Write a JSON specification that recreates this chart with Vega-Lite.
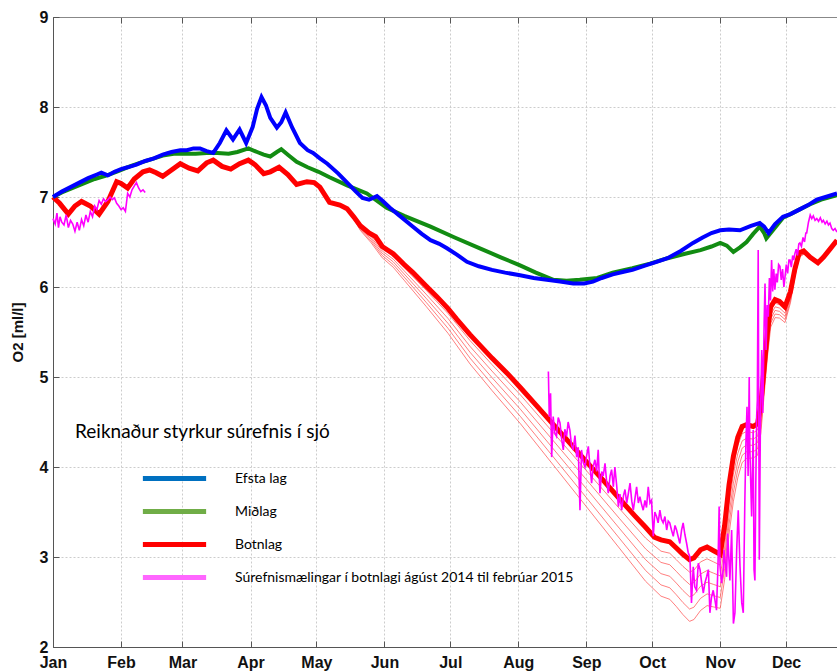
{
  "$schema": "https://vega.github.io/schema/vega-lite/v6.json",
  "width": 784,
  "height": 630,
  "autosize": {"type": "none"},
  "padding": {"left": 53, "top": 17, "right": 0, "bottom": 25},
  "background": "white",
  "config": {
    "view": {"stroke": "#888888", "strokeWidth": 1},
    "axis": {
      "labelFont": "Liberation Sans", "labelFontWeight": "bold", "labelFontSize": 16, "labelColor": "#111111",
      "titleFont": "Liberation Sans", "titleFontWeight": "bold", "titleFontSize": 15, "titleColor": "#111111",
      "domainColor": "#555555", "tickColor": "#555555",
      "gridColor": "#cccccc", "gridDash": [2, 2], "gridWidth": 1
    }
  },
  "datasets": {
    "blue": [
      {"d":0,"v":7.0},{"d":4,"v":7.06},{"d":8,"v":7.11},{"d":12,"v":7.16},{"d":16,"v":7.21},{"d":20,"v":7.25},{"d":22,"v":7.27},{"d":25,"v":7.24},{"d":28,"v":7.28},{"d":31,"v":7.31},{"d":34,"v":7.33},{"d":38,"v":7.36},{"d":42,"v":7.40},{"d":46,"v":7.43},{"d":50,"v":7.47},{"d":54,"v":7.50},{"d":58,"v":7.52},{"d":61,"v":7.52},{"d":64,"v":7.54},{"d":67,"v":7.54},{"d":70,"v":7.51},{"d":73,"v":7.49},{"d":76,"v":7.60},{"d":79,"v":7.74},{"d":82,"v":7.64},{"d":85,"v":7.75},{"d":88,"v":7.60},{"d":91,"v":7.78},{"d":93,"v":7.98},{"d":95,"v":8.11},{"d":97,"v":8.02},{"d":99,"v":7.88},{"d":102,"v":7.77},{"d":104,"v":7.83},{"d":106,"v":7.94},{"d":109,"v":7.77},{"d":112.5,"v":7.60},{"d":116,"v":7.52},{"d":118.5,"v":7.49},{"d":121.6,"v":7.43},{"d":125,"v":7.37},{"d":130,"v":7.26},{"d":134,"v":7.16},{"d":138,"v":7.06},{"d":141,"v":6.99},{"d":144,"v":6.97},{"d":147.6,"v":7.01},{"d":150,"v":6.96},{"d":153.5,"v":6.88},{"d":158,"v":6.79},{"d":164,"v":6.67},{"d":168,"v":6.59},{"d":172,"v":6.52},{"d":176,"v":6.48},{"d":179.5,"v":6.43},{"d":184,"v":6.36},{"d":188.6,"v":6.28},{"d":194,"v":6.23},{"d":200,"v":6.19},{"d":206,"v":6.16},{"d":212.8,"v":6.13},{"d":219,"v":6.10},{"d":225,"v":6.08},{"d":231,"v":6.06},{"d":237,"v":6.04},{"d":242,"v":6.04},{"d":246,"v":6.06},{"d":250,"v":6.10},{"d":255,"v":6.14},{"d":260,"v":6.17},{"d":264,"v":6.19},{"d":270,"v":6.24},{"d":275,"v":6.28},{"d":280,"v":6.32},{"d":286,"v":6.40},{"d":291.6,"v":6.49},{"d":296,"v":6.55},{"d":300,"v":6.60},{"d":304,"v":6.63},{"d":308,"v":6.64},{"d":313,"v":6.63},{"d":318,"v":6.68},{"d":322,"v":6.71},{"d":324,"v":6.67},{"d":326,"v":6.60},{"d":329,"v":6.70},{"d":332.6,"v":6.78},{"d":336,"v":6.81},{"d":340,"v":6.86},{"d":344,"v":6.91},{"d":348,"v":6.97},{"d":352,"v":7.00},{"d":357.2,"v":7.04}
    ],
    "green": [
      {"d":0,"v":7.0},{"d":4,"v":7.05},{"d":9,"v":7.10},{"d":14,"v":7.15},{"d":19,"v":7.20},{"d":24.6,"v":7.24},{"d":30,"v":7.29},{"d":35,"v":7.34},{"d":39.6,"v":7.38},{"d":45,"v":7.42},{"d":50,"v":7.46},{"d":55,"v":7.48},{"d":60,"v":7.48},{"d":65,"v":7.48},{"d":70,"v":7.49},{"d":75,"v":7.49},{"d":80,"v":7.48},{"d":84,"v":7.50},{"d":89,"v":7.54},{"d":93,"v":7.50},{"d":96,"v":7.47},{"d":99,"v":7.45},{"d":102,"v":7.50},{"d":104,"v":7.53},{"d":107,"v":7.47},{"d":111,"v":7.39},{"d":116,"v":7.33},{"d":121,"v":7.28},{"d":126,"v":7.22},{"d":134,"v":7.13},{"d":143,"v":7.04},{"d":152,"v":6.88},{"d":160,"v":6.79},{"d":172,"v":6.67},{"d":183,"v":6.55},{"d":194.5,"v":6.43},{"d":204,"v":6.33},{"d":212.8,"v":6.24},{"d":220,"v":6.16},{"d":228,"v":6.08},{"d":234,"v":6.07},{"d":240,"v":6.08},{"d":248,"v":6.10},{"d":255,"v":6.16},{"d":264,"v":6.21},{"d":272,"v":6.26},{"d":280,"v":6.32},{"d":288,"v":6.37},{"d":295,"v":6.41},{"d":300,"v":6.45},{"d":304,"v":6.49},{"d":307,"v":6.46},{"d":310,"v":6.39},{"d":313,"v":6.44},{"d":316,"v":6.50},{"d":319,"v":6.59},{"d":322,"v":6.67},{"d":324,"v":6.60},{"d":325,"v":6.54},{"d":328,"v":6.63},{"d":332.6,"v":6.77},{"d":336,"v":6.81},{"d":340,"v":6.86},{"d":345,"v":6.92},{"d":350,"v":6.97},{"d":357.2,"v":7.02}
    ],
    "red": [
      {"d":0,"v":7.0},{"d":3,"v":6.93},{"d":7,"v":6.81},{"d":10,"v":6.9},{"d":13,"v":6.95},{"d":17,"v":6.9},{"d":21,"v":6.81},{"d":25,"v":6.95},{"d":29,"v":7.17},{"d":31,"v":7.15},{"d":34,"v":7.1},{"d":37,"v":7.2},{"d":41,"v":7.28},{"d":44,"v":7.3},{"d":47,"v":7.27},{"d":50,"v":7.23},{"d":54,"v":7.3},{"d":58,"v":7.37},{"d":62,"v":7.32},{"d":66,"v":7.29},{"d":70,"v":7.38},{"d":73,"v":7.41},{"d":77,"v":7.34},{"d":81,"v":7.31},{"d":85,"v":7.37},{"d":89,"v":7.41},{"d":92,"v":7.36},{"d":96,"v":7.26},{"d":99,"v":7.28},{"d":103,"v":7.33},{"d":107,"v":7.25},{"d":111,"v":7.14},{"d":115.7,"v":7.17},{"d":119,"v":7.16},{"d":121.6,"v":7.11},{"d":126,"v":6.94},{"d":130.7,"v":6.91},{"d":134,"v":6.87},{"d":137,"v":6.78},{"d":140,"v":6.68},{"d":144,"v":6.6},{"d":147,"v":6.56},{"d":150,"v":6.45},{"d":155,"v":6.37},{"d":160,"v":6.25},{"d":164,"v":6.16},{"d":170,"v":6.01},{"d":175,"v":5.89},{"d":180,"v":5.76},{"d":184,"v":5.64},{"d":190,"v":5.47},{"d":195,"v":5.34},{"d":200,"v":5.21},{"d":207,"v":5.04},{"d":213,"v":4.88},{"d":220,"v":4.69},{"d":228,"v":4.47},{"d":235,"v":4.28},{"d":243,"v":4.06},{"d":250,"v":3.87},{"d":258,"v":3.65},{"d":265,"v":3.46},{"d":270,"v":3.33},{"d":274,"v":3.22},{"d":277,"v":3.19},{"d":281,"v":3.17},{"d":284,"v":3.1},{"d":287,"v":3.03},{"d":290,"v":2.97},{"d":292,"v":2.99},{"d":295,"v":3.08},{"d":298,"v":3.11},{"d":301,"v":3.07},{"d":304,"v":3.03},{"d":306,"v":3.35},{"d":308,"v":3.8},{"d":310,"v":4.12},{"d":312,"v":4.33},{"d":314,"v":4.45},{"d":316,"v":4.47},{"d":319,"v":4.45},{"d":321,"v":4.48},{"d":322.5,"v":4.7},{"d":324,"v":5.1},{"d":325.5,"v":5.5},{"d":327,"v":5.78},{"d":329,"v":5.86},{"d":331,"v":5.84},{"d":333.5,"v":5.78},{"d":336,"v":5.95},{"d":338,"v":6.2},{"d":340,"v":6.38},{"d":342,"v":6.4},{"d":345,"v":6.33},{"d":348.5,"v":6.27},{"d":351,"v":6.33},{"d":354,"v":6.42},{"d":357.2,"v":6.52}
    ],
    "thin": [
      {"k":1,"d":135,"v":6.84},{"k":1,"d":140,"v":6.67},{"k":1,"d":145,"v":6.57},{"k":1,"d":150,"v":6.425},{"k":1,"d":155,"v":6.34},{"k":1,"d":160,"v":6.215},{"k":1,"d":170,"v":5.965},{"k":1,"d":180,"v":5.705},{"k":1,"d":190,"v":5.405},{"k":1,"d":200,"v":5.138},{"k":1,"d":213,"v":4.80},{"k":1,"d":228,"v":4.38},{"k":1,"d":243,"v":3.96},{"k":1,"d":258,"v":3.54},{"k":1,"d":270,"v":3.21},{"k":1,"d":277,"v":3.065},{"k":1,"d":281,"v":3.042},{"k":1,"d":284,"v":2.97},{"k":1,"d":287,"v":2.896},{"k":1,"d":290,"v":2.833},{"k":1,"d":292,"v":2.853},{"k":1,"d":295,"v":2.945},{"k":1,"d":298,"v":2.98},{"k":1,"d":301,"v":2.945},{"k":1,"d":304,"v":2.91},{"k":1,"d":306,"v":3.23},{"k":1,"d":308,"v":3.69},{"k":1,"d":310,"v":4.02},{"k":1,"d":312,"v":4.24},{"k":1,"d":314,"v":4.37},{"k":1,"d":316,"v":4.395},{"k":1,"d":319,"v":4.38},{"k":1,"d":321,"v":4.41},{"k":1,"d":322.5,"v":4.635},{"k":1,"d":324,"v":5.04},{"k":1,"d":325.5,"v":5.445},{"k":1,"d":327,"v":5.735},{"k":1,"d":329,"v":5.82},{"k":1,"d":331,"v":5.803},{"k":1,"d":333.5,"v":5.745},{"k":1,"d":336,"v":5.925},{"k":1,"d":338,"v":6.182},{"k":1,"d":340,"v":6.37},{"k":1,"d":343,"v":6.38},
      {"k":2,"d":135,"v":6.84},{"k":2,"d":140,"v":6.66},{"k":2,"d":145,"v":6.55},{"k":2,"d":150,"v":6.40},{"k":2,"d":155,"v":6.31},{"k":2,"d":160,"v":6.18},{"k":2,"d":170,"v":5.92},{"k":2,"d":180,"v":5.65},{"k":2,"d":190,"v":5.34},{"k":2,"d":200,"v":5.066},{"k":2,"d":213,"v":4.72},{"k":2,"d":228,"v":4.29},{"k":2,"d":243,"v":3.86},{"k":2,"d":258,"v":3.43},{"k":2,"d":270,"v":3.09},{"k":2,"d":277,"v":2.94},{"k":2,"d":281,"v":2.914},{"k":2,"d":284,"v":2.84},{"k":2,"d":287,"v":2.762},{"k":2,"d":290,"v":2.696},{"k":2,"d":292,"v":2.716},{"k":2,"d":295,"v":2.81},{"k":2,"d":298,"v":2.85},{"k":2,"d":301,"v":2.82},{"k":2,"d":304,"v":2.79},{"k":2,"d":306,"v":3.11},{"k":2,"d":308,"v":3.58},{"k":2,"d":310,"v":3.92},{"k":2,"d":312,"v":4.15},{"k":2,"d":314,"v":4.29},{"k":2,"d":316,"v":4.32},{"k":2,"d":319,"v":4.31},{"k":2,"d":321,"v":4.34},{"k":2,"d":322.5,"v":4.57},{"k":2,"d":324,"v":4.98},{"k":2,"d":325.5,"v":5.39},{"k":2,"d":327,"v":5.69},{"k":2,"d":329,"v":5.78},{"k":2,"d":331,"v":5.766},{"k":2,"d":333.5,"v":5.71},{"k":2,"d":336,"v":5.90},{"k":2,"d":338,"v":6.164},{"k":2,"d":340,"v":6.36},{"k":2,"d":343,"v":6.38},
      {"k":3,"d":135,"v":6.84},{"k":3,"d":140,"v":6.65},{"k":3,"d":145,"v":6.53},{"k":3,"d":150,"v":6.375},{"k":3,"d":155,"v":6.28},{"k":3,"d":160,"v":6.145},{"k":3,"d":170,"v":5.875},{"k":3,"d":180,"v":5.595},{"k":3,"d":190,"v":5.275},{"k":3,"d":200,"v":4.994},{"k":3,"d":213,"v":4.64},{"k":3,"d":228,"v":4.20},{"k":3,"d":243,"v":3.76},{"k":3,"d":258,"v":3.32},{"k":3,"d":270,"v":2.97},{"k":3,"d":277,"v":2.815},{"k":3,"d":281,"v":2.786},{"k":3,"d":284,"v":2.71},{"k":3,"d":287,"v":2.628},{"k":3,"d":290,"v":2.559},{"k":3,"d":292,"v":2.579},{"k":3,"d":295,"v":2.675},{"k":3,"d":298,"v":2.72},{"k":3,"d":301,"v":2.695},{"k":3,"d":304,"v":2.67},{"k":3,"d":306,"v":2.99},{"k":3,"d":308,"v":3.47},{"k":3,"d":310,"v":3.82},{"k":3,"d":312,"v":4.06},{"k":3,"d":314,"v":4.21},{"k":3,"d":316,"v":4.245},{"k":3,"d":319,"v":4.24},{"k":3,"d":321,"v":4.27},{"k":3,"d":322.5,"v":4.505},{"k":3,"d":324,"v":4.92},{"k":3,"d":325.5,"v":5.335},{"k":3,"d":327,"v":5.645},{"k":3,"d":329,"v":5.74},{"k":3,"d":331,"v":5.729},{"k":3,"d":333.5,"v":5.675},{"k":3,"d":336,"v":5.875},{"k":3,"d":338,"v":6.146},{"k":3,"d":340,"v":6.35},{"k":3,"d":343,"v":6.38},
      {"k":4,"d":135,"v":6.84},{"k":4,"d":140,"v":6.64},{"k":4,"d":145,"v":6.51},{"k":4,"d":150,"v":6.35},{"k":4,"d":155,"v":6.25},{"k":4,"d":160,"v":6.11},{"k":4,"d":170,"v":5.83},{"k":4,"d":180,"v":5.54},{"k":4,"d":190,"v":5.21},{"k":4,"d":200,"v":4.922},{"k":4,"d":213,"v":4.56},{"k":4,"d":228,"v":4.11},{"k":4,"d":243,"v":3.66},{"k":4,"d":258,"v":3.21},{"k":4,"d":270,"v":2.85},{"k":4,"d":277,"v":2.69},{"k":4,"d":281,"v":2.658},{"k":4,"d":284,"v":2.58},{"k":4,"d":287,"v":2.494},{"k":4,"d":290,"v":2.422},{"k":4,"d":292,"v":2.442},{"k":4,"d":295,"v":2.54},{"k":4,"d":298,"v":2.59},{"k":4,"d":301,"v":2.57},{"k":4,"d":304,"v":2.55},{"k":4,"d":306,"v":2.87},{"k":4,"d":308,"v":3.36},{"k":4,"d":310,"v":3.72},{"k":4,"d":312,"v":3.97},{"k":4,"d":314,"v":4.13},{"k":4,"d":316,"v":4.17},{"k":4,"d":319,"v":4.17},{"k":4,"d":321,"v":4.20},{"k":4,"d":322.5,"v":4.44},{"k":4,"d":324,"v":4.86},{"k":4,"d":325.5,"v":5.28},{"k":4,"d":327,"v":5.60},{"k":4,"d":329,"v":5.70},{"k":4,"d":331,"v":5.692},{"k":4,"d":333.5,"v":5.64},{"k":4,"d":336,"v":5.85},{"k":4,"d":338,"v":6.128},{"k":4,"d":340,"v":6.34},{"k":4,"d":343,"v":6.38},
      {"k":5,"d":135,"v":6.84},{"k":5,"d":140,"v":6.63},{"k":5,"d":145,"v":6.49},{"k":5,"d":150,"v":6.325},{"k":5,"d":155,"v":6.22},{"k":5,"d":160,"v":6.075},{"k":5,"d":170,"v":5.785},{"k":5,"d":180,"v":5.485},{"k":5,"d":190,"v":5.145},{"k":5,"d":200,"v":4.85},{"k":5,"d":213,"v":4.48},{"k":5,"d":228,"v":4.02},{"k":5,"d":243,"v":3.56},{"k":5,"d":258,"v":3.10},{"k":5,"d":270,"v":2.73},{"k":5,"d":277,"v":2.565},{"k":5,"d":281,"v":2.53},{"k":5,"d":284,"v":2.45},{"k":5,"d":287,"v":2.36},{"k":5,"d":290,"v":2.285},{"k":5,"d":292,"v":2.305},{"k":5,"d":295,"v":2.405},{"k":5,"d":298,"v":2.46},{"k":5,"d":301,"v":2.445},{"k":5,"d":304,"v":2.43},{"k":5,"d":306,"v":2.75},{"k":5,"d":308,"v":3.25},{"k":5,"d":310,"v":3.62},{"k":5,"d":312,"v":3.88},{"k":5,"d":314,"v":4.05},{"k":5,"d":316,"v":4.095},{"k":5,"d":319,"v":4.10},{"k":5,"d":321,"v":4.13},{"k":5,"d":322.5,"v":4.375},{"k":5,"d":324,"v":4.80},{"k":5,"d":325.5,"v":5.225},{"k":5,"d":327,"v":5.555},{"k":5,"d":329,"v":5.66},{"k":5,"d":331,"v":5.655},{"k":5,"d":333.5,"v":5.605},{"k":5,"d":336,"v":5.825},{"k":5,"d":338,"v":6.11},{"k":5,"d":340,"v":6.33},{"k":5,"d":343,"v":6.38}
    ],
    "meas": [
      {"g":1,"d":0,"v":6.76},{"g":1,"d":1,"v":6.7},{"g":1,"d":1.8,"v":6.82},{"g":1,"d":2.5,"v":6.66},{"g":1,"d":3.2,"v":6.78},{"g":1,"d":4,"v":6.72},{"g":1,"d":5,"v":6.69},{"g":1,"d":6,"v":6.8},{"g":1,"d":7,"v":6.66},{"g":1,"d":8,"v":6.74},{"g":1,"d":9,"v":6.7},{"g":1,"d":10,"v":6.62},{"g":1,"d":11,"v":6.72},{"g":1,"d":12,"v":6.63},{"g":1,"d":13,"v":6.75},{"g":1,"d":14,"v":6.68},{"g":1,"d":15,"v":6.8},{"g":1,"d":16,"v":6.72},{"g":1,"d":17,"v":6.84},{"g":1,"d":18,"v":6.78},{"g":1,"d":19,"v":6.9},{"g":1,"d":20,"v":6.86},{"g":1,"d":21,"v":6.96},{"g":1,"d":22,"v":6.92},{"g":1,"d":23,"v":6.98},{"g":1,"d":24,"v":6.95},{"g":1,"d":25,"v":6.97},{"g":1,"d":26,"v":7.0},{"g":1,"d":27,"v":6.97},{"g":1,"d":28,"v":6.99},{"g":1,"d":29,"v":6.93},{"g":1,"d":30,"v":6.9},{"g":1,"d":31,"v":6.86},{"g":1,"d":32,"v":6.88},{"g":1,"d":33,"v":6.84},{"g":1,"d":34,"v":7.04},{"g":1,"d":35,"v":7.0},{"g":1,"d":36,"v":7.08},{"g":1,"d":37,"v":7.12},{"g":1,"d":38,"v":7.16},{"g":1,"d":39,"v":7.1},{"g":1,"d":40,"v":7.06},{"g":1,"d":41,"v":7.08},{"g":1,"d":42,"v":7.05},
      {"g":2,"d":225.7,"v":5.06},{"g":2,"d":226.1,"v":4.56},{"g":2,"d":226.7,"v":4.82},{"g":2,"d":227.2,"v":4.11},{"g":2,"d":227.9,"v":4.56},{"g":2,"d":228.6,"v":4.38},{"g":2,"d":229.4,"v":4.34},{"g":2,"d":230.2,"v":4.55},{"g":2,"d":231.0,"v":4.49},{"g":2,"d":231.7,"v":4.32},{"g":2,"d":232.5,"v":4.19},{"g":2,"d":233.2,"v":4.42},{"g":2,"d":234.0,"v":4.34},{"g":2,"d":234.7,"v":4.5},{"g":2,"d":235.5,"v":4.41},{"g":2,"d":236.2,"v":4.25},{"g":2,"d":237.0,"v":4.19},{"g":2,"d":237.8,"v":4.35},{"g":2,"d":238.6,"v":4.11},{"g":2,"d":239.3,"v":4.22},{"g":2,"d":240.1,"v":3.52},{"g":2,"d":240.8,"v":4.19},{"g":2,"d":241.6,"v":4.05},{"g":2,"d":242.4,"v":4.0},{"g":2,"d":243.1,"v":4.12},{"g":2,"d":243.9,"v":4.23},{"g":2,"d":244.6,"v":4.02},{"g":2,"d":245.4,"v":3.82},{"g":2,"d":246.1,"v":4.0},{"g":2,"d":246.9,"v":4.08},{"g":2,"d":247.7,"v":3.95},{"g":2,"d":248.4,"v":4.19},{"g":2,"d":249.2,"v":3.71},{"g":2,"d":250.0,"v":3.95},{"g":2,"d":250.7,"v":3.9},{"g":2,"d":251.5,"v":4.04},{"g":2,"d":252.2,"v":3.85},{"g":2,"d":253.0,"v":3.71},{"g":2,"d":253.8,"v":3.9},{"g":2,"d":254.5,"v":3.97},{"g":2,"d":255.3,"v":3.78},{"g":2,"d":256.0,"v":4.0},{"g":2,"d":256.8,"v":3.8},{"g":2,"d":257.6,"v":3.56},{"g":2,"d":258.3,"v":3.7},{"g":2,"d":259.1,"v":3.52},{"g":2,"d":259.9,"v":3.68},{"g":2,"d":260.6,"v":3.75},{"g":2,"d":261.4,"v":3.6},{"g":2,"d":262.1,"v":3.7},{"g":2,"d":262.9,"v":3.82},{"g":2,"d":263.7,"v":3.62},{"g":2,"d":264.4,"v":3.52},{"g":2,"d":265.2,"v":3.66},{"g":2,"d":265.9,"v":3.78},{"g":2,"d":266.7,"v":3.6},{"g":2,"d":267.4,"v":3.67},{"g":2,"d":268.2,"v":3.58},{"g":2,"d":268.9,"v":3.52},{"g":2,"d":269.7,"v":3.63},{"g":2,"d":270.4,"v":3.55},{"g":2,"d":271.2,"v":3.78},{"g":2,"d":272.0,"v":3.6},{"g":2,"d":272.7,"v":3.63},{"g":2,"d":273.5,"v":3.23},{"g":2,"d":274.2,"v":3.5},{"g":2,"d":275.0,"v":3.45},{"g":2,"d":275.7,"v":3.38},{"g":2,"d":276.5,"v":3.52},{"g":2,"d":277.2,"v":3.42},{"g":2,"d":278.0,"v":3.38},{"g":2,"d":278.8,"v":3.45},{"g":2,"d":279.6,"v":3.3},{"g":2,"d":280.3,"v":3.4},{"g":2,"d":281.0,"v":3.38},{"g":2,"d":281.8,"v":3.3},{"g":2,"d":282.6,"v":3.23},{"g":2,"d":283.4,"v":3.35},{"g":2,"d":284.1,"v":3.3},{"g":2,"d":284.9,"v":3.22},{"g":2,"d":285.6,"v":3.15},{"g":2,"d":286.4,"v":3.3},{"g":2,"d":287.1,"v":3.38},{"g":2,"d":287.9,"v":3.25},{"g":2,"d":288.7,"v":3.15},{"g":2,"d":289.4,"v":3.05},{"g":2,"d":290.2,"v":3.0},{"g":2,"d":290.9,"v":2.49},{"g":2,"d":291.7,"v":2.89},{"g":2,"d":292.4,"v":2.67},{"g":2,"d":293.2,"v":2.63},{"g":2,"d":294.0,"v":2.93},{"g":2,"d":294.8,"v":2.86},{"g":2,"d":295.5,"v":2.72},{"g":2,"d":296.3,"v":2.6},{"g":2,"d":297.0,"v":2.71},{"g":2,"d":297.8,"v":2.78},{"g":2,"d":298.6,"v":2.86},{"g":2,"d":299.3,"v":2.38},{"g":2,"d":300.0,"v":2.55},{"g":2,"d":300.8,"v":2.63},{"g":2,"d":301.6,"v":2.52},{"g":2,"d":302.3,"v":2.41},{"g":2,"d":303.0,"v":2.93},{"g":2,"d":303.5,"v":3.56},{"g":2,"d":303.9,"v":2.9},{"g":2,"d":304.6,"v":2.71},{"g":2,"d":305.4,"v":2.86},{"g":2,"d":305.7,"v":3.08},{"g":2,"d":306.9,"v":2.78},{"g":2,"d":307.4,"v":3.26},{"g":2,"d":308.4,"v":2.74},{"g":2,"d":309.2,"v":3.3},{"g":2,"d":310.0,"v":2.26},{"g":2,"d":310.7,"v":2.38},{"g":2,"d":311.5,"v":3.08},{"g":2,"d":312.2,"v":3.52},{"g":2,"d":313.0,"v":2.9},{"g":2,"d":313.8,"v":2.49},{"g":2,"d":314.5,"v":2.38},{"g":2,"d":315.2,"v":3.6},{"g":2,"d":315.7,"v":4.27},{"g":2,"d":316.2,"v":4.67},{"g":2,"d":316.7,"v":3.9},{"g":2,"d":317.2,"v":5.0},{"g":2,"d":317.5,"v":4.2},{"g":2,"d":318.3,"v":3.45},{"g":2,"d":319.0,"v":4.41},{"g":2,"d":319.4,"v":2.86},{"g":2,"d":319.8,"v":2.74},{"g":2,"d":320.2,"v":3.8},{"g":2,"d":320.6,"v":4.56},{"g":2,"d":320.9,"v":4.74},{"g":2,"d":321.3,"v":6.41},{"g":2,"d":321.6,"v":4.3},{"g":2,"d":321.8,"v":2.97},{"g":2,"d":322.3,"v":4.5},{"g":2,"d":322.9,"v":5.3},{"g":2,"d":323.4,"v":4.6},{"g":2,"d":324.0,"v":5.6},{"g":2,"d":324.4,"v":6.04},{"g":2,"d":324.9,"v":5.3},{"g":2,"d":325.4,"v":5.8},{"g":2,"d":325.9,"v":5.67},{"g":2,"d":326.4,"v":6.1},{"g":2,"d":326.9,"v":5.85},{"g":2,"d":327.4,"v":6.3},{"g":2,"d":327.9,"v":5.95},{"g":2,"d":328.4,"v":6.2},{"g":2,"d":328.9,"v":5.97},{"g":2,"d":329.5,"v":6.15},{"g":2,"d":330.0,"v":6.05},{"g":2,"d":330.6,"v":6.25},{"g":2,"d":331.2,"v":6.23},{"g":2,"d":331.8,"v":6.08},{"g":2,"d":332.4,"v":6.2},{"g":2,"d":333.0,"v":6.0},{"g":2,"d":333.5,"v":6.11},{"g":2,"d":334.1,"v":6.25},{"g":2,"d":334.7,"v":6.15},{"g":2,"d":335.3,"v":6.3},{"g":2,"d":335.8,"v":6.3},{"g":2,"d":336.4,"v":6.22},{"g":2,"d":337.0,"v":6.35},{"g":2,"d":337.5,"v":6.3},{"g":2,"d":338.0,"v":6.37},{"g":2,"d":338.6,"v":6.42},{"g":2,"d":339.2,"v":6.35},{"g":2,"d":339.8,"v":6.48},{"g":2,"d":340.3,"v":6.49},{"g":2,"d":341.0,"v":6.45},{"g":2,"d":341.7,"v":6.55},{"g":2,"d":342.4,"v":6.5},{"g":2,"d":343.0,"v":6.6},{"g":2,"d":343.4,"v":6.6},{"g":2,"d":344.2,"v":6.72},{"g":2,"d":345.0,"v":6.8},{"g":2,"d":345.7,"v":6.76},{"g":2,"d":346.4,"v":6.79},{"g":2,"d":347.2,"v":6.74},{"g":2,"d":348.0,"v":6.76},{"g":2,"d":348.8,"v":6.73},{"g":2,"d":349.6,"v":6.77},{"g":2,"d":350.4,"v":6.72},{"g":2,"d":351.0,"v":6.74},{"g":2,"d":351.8,"v":6.7},{"g":2,"d":352.6,"v":6.73},{"g":2,"d":353.3,"v":6.69},{"g":2,"d":354.0,"v":6.71},{"g":2,"d":354.8,"v":6.65},{"g":2,"d":355.5,"v":6.63},{"g":2,"d":356.3,"v":6.65},{"g":2,"d":357.2,"v":6.61}
    ],
    "leg": [
      {"name":"Efsta lag","d":0,"v":7},
      {"name":"Miðlag","d":0,"v":7},
      {"name":"Botnlag","d":0,"v":7},
      {"name":"Súrefnismælingar í botnlagi ágúst 2014 til febrúar 2015","d":0,"v":7}
    ]
  },
  "resolve": {"axis": {"x": "independent", "y": "independent"}},
  "layer": [
    {
      "data": {"name": "thin"},
      "mark": {"type": "line", "color": "#ff4040", "strokeWidth": 0.9, "opacity": 0.75, "clip": true},
      "encoding": {
        "x": {"field": "d", "type": "quantitative", "scale": {"domain": [0, 357.2], "nice": false, "zero": false},
          "axis": {"orient": "bottom", "values": [0,31,59,90,120,151,181,212,243,273,304,334],
            "labelExpr": "['Jan','Feb','Mar','Apr','May','Jun','Jul','Aug','Sep','Oct','Nov','Dec'][indexof([0,31,59,90,120,151,181,212,243,273,304,334], datum.value)]",
            "grid": true, "tickSize": -6, "labelPadding": 13, "labelFlush": false, "labelOverlap": false, "title": null, "domain": true}},
        "y": {"field": "v", "type": "quantitative", "scale": {"domain": [2, 9], "nice": false, "zero": false},
          "axis": {"orient": "left", "values": [2,3,4,5,6,7,8,9], "grid": true, "tickSize": -6, "labelPadding": 11, "labelFlush": false,
            "title": "O2 [ml/l]", "titlePadding": 14}},
        "detail": {"field": "k"}
      }
    },
    {
      "data": {"name": "red"},
      "mark": {"type": "line", "color": "#ff0000", "strokeWidth": 5},
      "encoding": {
        "x": {"field": "d", "type": "quantitative", "axis": null},
        "y": {"field": "v", "type": "quantitative", "axis": null}
      }
    },
    {
      "data": {"name": "meas"},
      "mark": {"type": "line", "color": "#ff00ff", "strokeWidth": 1.6},
      "encoding": {
        "x": {"field": "d", "type": "quantitative", "axis": null},
        "y": {"field": "v", "type": "quantitative", "axis": null},
        "detail": {"field": "g"}
      }
    },
    {
      "data": {"name": "green"},
      "mark": {"type": "line", "color": "#128c12", "strokeWidth": 4},
      "encoding": {
        "x": {"field": "d", "type": "quantitative", "axis": null},
        "y": {"field": "v", "type": "quantitative", "axis": null}
      }
    },
    {
      "data": {"name": "blue"},
      "mark": {"type": "line", "color": "#0000ff", "strokeWidth": 4},
      "encoding": {
        "x": {"field": "d", "type": "quantitative", "axis": null},
        "y": {"field": "v", "type": "quantitative", "axis": null}
      }
    },
    {
      "data": {"name": "leg"},
      "mark": {"type": "line", "opacity": 0},
      "encoding": {
        "x": {"field": "d", "type": "quantitative",
          "axis": {"orient": "top", "values": [0,31,59,90,120,151,181,212,243,273,304,334], "labels": false, "grid": false, "tickSize": -6, "title": null, "domainColor": "#888888"}},
        "y": {"field": "v", "type": "quantitative", "axis": null},
        "color": {"field": "name", "type": "nominal",
          "scale": {"domain": ["Efsta lag", "Miðlag", "Botnlag", "Súrefnismælingar í botnlagi ágúst 2014 til febrúar 2015"],
                    "range": ["#0070c0", "#70ad47", "#ff0000", "#ff66ff"]},
          "legend": {
            "orient": "none", "legendX": 22, "legendY": 406, "padding": 0,
            "title": "Reiknaður styrkur súrefnis í sjó", "titleFont": "Lato", "titleFontSize": 19, "titleFontWeight": "normal", "titleColor": "#000000", "titleLimit": 1000, "titlePadding": 18,
            "labelFont": "Lato", "labelFontSize": 14, "labelColor": "#000000", "labelLimit": 1000,
            "symbolType": "M-2,0H2", "symbolSize": 1000, "symbolStrokeWidth": 5, "symbolOpacity": 1, "symbolOffset": 81,
            "labelOffset": 42, "rowPadding": 4
          }
        }
      }
    }
  ]
}
